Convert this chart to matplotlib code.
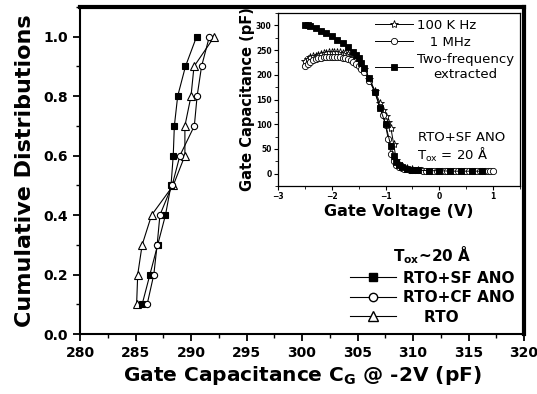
import matplotlib
matplotlib.use("Agg")
import matplotlib.pyplot as plt
from matplotlib.lines import Line2D
from matplotlib.ticker import MultipleLocator

plt.rcParams['font.family'] = ['DejaVu Sans']
plt.rcParams['mathtext.fontset'] = 'dejavusans'

# ---- main data: cumulative distributions ----
cum = [0.1, 0.2, 0.3, 0.4, 0.5, 0.6, 0.7, 0.8, 0.9, 1.0]
cg_sf = [285.6, 286.3, 287.0, 287.7, 288.2, 288.4, 288.5, 288.8, 289.5, 290.5]
cg_cf = [286.05, 286.65, 286.95, 287.2, 288.3, 289.0, 290.3, 290.55, 290.95, 291.65]
cg_rto = [285.1, 285.2, 285.6, 286.45, 288.4, 289.45, 289.45, 290.0, 290.27, 292.1]
series_labels = ["RTO+SF ANO", "RTO+CF ANO", "    RTO"]

# ---- inset data: C-V curves ----
v_100k = [-2.5, -2.45, -2.4, -2.35, -2.3, -2.25, -2.2, -2.15, -2.1, -2.05, -2.0, -1.95, -1.9,
          -1.85, -1.8, -1.75, -1.7, -1.65, -1.6, -1.55, -1.5, -1.4, -1.3, -1.2, -1.1, -1.05,
          -1.0, -0.95, -0.9, -0.85, -0.8, -0.75, -0.7, -0.6, -0.5, -0.4]
c_100k = [228, 232, 235, 237, 239, 241, 243, 244, 245, 246, 247, 247, 247,
          246, 245, 244, 242, 240, 236, 232, 226, 212, 192, 168, 142, 128,
          116, 104, 92, 60, 28, 20, 15, 11, 9, 8]
v_1m = [-2.5, -2.45, -2.4, -2.35, -2.3, -2.25, -2.2, -2.15, -2.1, -2.05, -2.0, -1.95, -1.9,
        -1.85, -1.8, -1.75, -1.7, -1.65, -1.6, -1.55, -1.5, -1.45, -1.4, -1.3, -1.2, -1.1,
        -1.05, -1.0, -0.95, -0.9, -0.85, -0.8, -0.75, -0.7, -0.65, -0.6, -0.55, -0.5, -0.45,
        -0.4, -0.35, -0.3, -0.25, -0.2, -0.15, -0.1, -0.05, 0.0, 0.05, 0.1, 0.15, 0.2, 0.25,
        0.3, 0.35, 0.4, 0.45, 0.5, 0.55, 0.6, 0.65, 0.7, 0.75, 0.8, 0.85, 0.9, 0.95, 1.0]
c_1m = [217, 222, 226, 229, 231, 233, 234, 235, 236, 236, 236, 236, 236,
        235, 234, 233, 231, 229, 226, 222, 218, 212, 205, 188, 165, 135,
        118, 98, 70, 40, 25, 18, 14, 12, 10, 9, 8, 8, 7,
        7, 7, 6, 6, 6, 6, 6, 6, 5, 5, 5, 5, 5, 5,
        5, 5, 5, 5, 5, 5, 5, 5, 5, 5, 5, 5, 5, 5, 5]
v_tf = [-2.5, -2.45, -2.4, -2.3, -2.2, -2.1, -2.0, -1.9, -1.8, -1.7, -1.6, -1.55, -1.5,
        -1.45, -1.4, -1.3, -1.2, -1.1, -1.0, -0.9, -0.85, -0.8, -0.75, -0.7, -0.6, -0.5,
        -0.4, -0.2, 0.0, 0.2, 0.4, 0.6, 0.8]
c_tf = [301, 300, 298, 294, 289, 284, 278, 271, 264, 256, 246, 240, 234,
        224, 214, 193, 165, 132, 100, 55, 36, 23, 17, 13, 10, 8,
        7, 6, 6, 5, 5, 5, 5]
inset_labels = ["100 K Hz", "   1 MHz", "Two-frequency\nextracted"]

W, H = 537, 394
fig = plt.figure(figsize=(W / 100, H / 100), dpi=100)
ax = fig.add_axes([80 / W, 1 - 334 / H, (524 - 80) / W, (334 - 7) / H])

mk = dict(color='black', lw=0.8, markeredgewidth=0.8)
ax.plot(cg_rto, cum, marker='^', markerfacecolor='white', markersize=5.5, label=series_labels[2], **mk)
ax.plot(cg_sf, cum, marker='s', markerfacecolor='black', markersize=4.5, label=series_labels[0], **mk)
ax.plot(cg_cf, cum, marker='o', markerfacecolor='white', markersize=4.5, label=series_labels[1], **mk)

ax.set_xlim(280, 320)
ax.set_ylim(0, 1.1)
ax.xaxis.set_major_locator(MultipleLocator(5))
ax.xaxis.set_minor_locator(MultipleLocator(2.5))
ax.yaxis.set_minor_locator(MultipleLocator(0.1))
ax.set_yticks([0, 0.2, 0.4, 0.6, 0.8, 1.0])
ax.set_yticklabels(['0.0', '0.2', '0.4', '0.6', '0.8', '1.0'])
ax.tick_params(which='major', direction='out', length=5, width=1.3, labelsize=10)
ax.tick_params(which='minor', direction='out', length=3, width=1.0)
for lab in ax.get_xticklabels() + ax.get_yticklabels():
    lab.set_fontweight('bold')
for s in ['left', 'bottom']:
    ax.spines[s].set_linewidth(1.5)
for s in ['top', 'right']:
    ax.spines[s].set_linewidth(3)

ax.set_xlabel(r"Gate Capacitance C$_{\mathbf{G}}$ @ -2V (pF)", fontsize=14.5, fontweight='bold', labelpad=3)
ax.set_ylabel("Cumulative Distributions", fontsize=16, fontweight='bold', labelpad=6)

handles = [
    Line2D([], [], color='black', lw=0.8, marker='s', markerfacecolor='black', markersize=6),
    Line2D([], [], color='black', lw=0.8, marker='o', markerfacecolor='white', markersize=6),
    Line2D([], [], color='black', lw=0.8, marker='^', markerfacecolor='white', markersize=7),
]
leg = ax.legend(handles, series_labels, loc='lower right', bbox_to_anchor=(1.0, 0.0),
                frameon=False, handlelength=3.0, handletextpad=0.5, labelspacing=0.3,
                prop=dict(size=11, weight='bold'), title=r"T$_{\mathbf{ox}}$~20 Å",
                title_fontproperties=dict(size=11, weight='bold'), borderaxespad=0.2)

# ---- inset ----
ins = fig.add_axes([278 / W, 1 - 186 / H, (520 - 278) / W, (186 - 13) / H])
mk2 = dict(color='black', lw=0.7, markeredgewidth=0.6)
ins.plot(v_100k, c_100k, marker='*', markerfacecolor='white', markersize=6, label=inset_labels[0], **mk2)
ins.plot(v_1m, c_1m, marker='o', markerfacecolor='white', markersize=4.5, label=inset_labels[1], **mk2)
ins.plot(v_tf, c_tf, marker='s', markerfacecolor='black', markersize=4.5, label=inset_labels[2], **mk2)
ins.set_xlim(-3, 1.5)
ins.set_ylim(-25, 325)
ins.xaxis.set_major_locator(MultipleLocator(1))
ins.xaxis.set_minor_locator(MultipleLocator(0.5))
ins.yaxis.set_major_locator(MultipleLocator(50))
ins.yaxis.set_minor_locator(MultipleLocator(25))
ins.tick_params(which='major', direction='out', length=3, width=0.8, labelsize=5.5, pad=1.5)
ins.tick_params(which='minor', direction='out', length=2, width=0.6)
for lab in ins.get_xticklabels() + ins.get_yticklabels():
    lab.set_fontweight('bold')
for s in ins.spines.values():
    s.set_linewidth(0.9)
ins.set_xlabel("Gate Voltage (V)", fontsize=11.5, fontweight='bold', labelpad=2)
ins.set_ylabel("Gate Capacitance (pF)", fontsize=10.5, fontweight='bold', labelpad=1)
ileg = ins.legend(loc='upper right', frameon=False, fontsize=9.5, handlelength=2.9,
                  handletextpad=0.3, labelspacing=0.3, borderaxespad=0.05)
for t in ileg.get_texts():
    t.set_multialignment('center')
ins.text(0.94, 0.283, "RTO+SF ANO", transform=ins.transAxes, ha='right', va='center', fontsize=9.5)
ins.text(0.87, 0.18, r"T$_{\mathrm{ox}}$ = 20 Å", transform=ins.transAxes, ha='right', va='center',
         fontsize=9.5)

fig.savefig("out.png", dpi=100)
